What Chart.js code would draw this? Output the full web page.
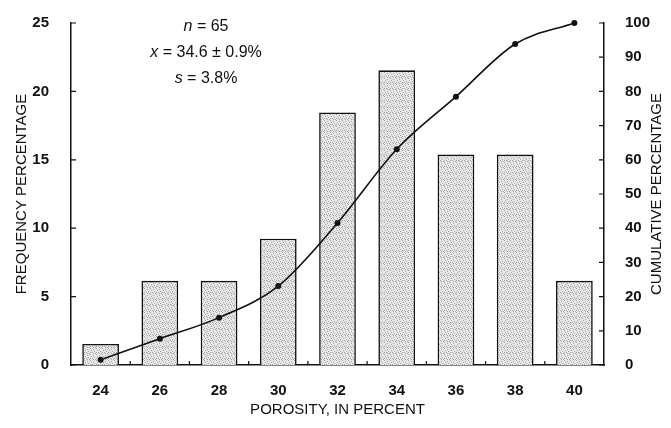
<!DOCTYPE html>
<html>
<head>
<meta charset="utf-8">
<script src="https://cdn.jsdelivr.net/npm/chart.js@4/dist/chart.umd.min.js"></script>
<style>
  html, body { margin: 0; padding: 0; background: #fff; }
  #porosityChart { display: block; }
</style>
</head>
<body>
<canvas id="porosityChart" width="671" height="428"></canvas>
<script>
// porosity classes (percent)
const categories = ['24', '26', '28', '30', '32', '34', '36', '38', '40'];
// frequency percentage, 65 samples
const frequency = [1.54, 6.15, 6.15, 9.23, 18.46, 21.54, 15.38, 15.38, 6.15];
// cumulative percentage
const cumulative = [1.54, 7.69, 13.85, 23.08, 41.54, 63.08, 78.46, 93.85, 100];
const freqTicks = [0, 5, 10, 15, 20, 25];
const cumTicks = [0, 10, 20, 30, 40, 50, 60, 70, 80, 90, 100];

// stippled grey fill like the scanned figure
function makeStipple() {
    const c = document.createElement('canvas');
    c.width = 6; c.height = 6;
    const g = c.getContext('2d');
    g.fillStyle = '#e6e6e6';
    g.fillRect(0, 0, 6, 6);
    g.fillStyle = '#a8a8a8';
    [[0, 0], [3, 1], [1, 2], [4, 3], [2, 4], [5, 5], [0, 4], [3, 5]].forEach(p => g.fillRect(p[0], p[1], 1, 1));
    return g.createPattern(c, 'repeat');
}

const inkColor = '#111';
const tickFont = { family: 'Liberation Sans, Arial, sans-serif', size: 15, weight: 'bold' };
const titleFont = { family: 'Liberation Sans, Arial, sans-serif', size: 15 };

// inward tick marks, right-hand title and the statistics box
const extrasPlugin = {
    id: 'extras',
    afterDraw(chart) {
        const ctx = chart.ctx;
        const area = chart.chartArea;
        const x = chart.scales.x, y = chart.scales.y, y1 = chart.scales.y1;
        ctx.save();
        ctx.strokeStyle = inkColor;
        ctx.lineWidth = 1.2;
        ctx.beginPath();
        freqTicks.forEach(v => {
            const py = y.getPixelForValue(v);
            ctx.moveTo(area.left, py); ctx.lineTo(area.left + 5, py);
        });
        cumTicks.forEach(v => {
            const py = y1.getPixelForValue(v);
            ctx.moveTo(area.right, py); ctx.lineTo(area.right - 5, py);
        });
        for (let i = 0; i < categories.length - 1; i++) {
            const px = (x.getPixelForTick(i) + x.getPixelForTick(i + 1)) / 2;
            ctx.moveTo(px, area.bottom); ctx.lineTo(px, area.bottom - 4);
        }
        ctx.stroke();

        // right axis title, reading bottom to top
        ctx.fillStyle = inkColor;
        ctx.font = '15px "Liberation Sans", Arial, sans-serif';
        ctx.textAlign = 'center';
        ctx.textBaseline = 'middle';
        ctx.translate(657, (area.top + area.bottom) / 2);
        ctx.rotate(-Math.PI / 2);
        ctx.fillText('CUMULATIVE PERCENTAGE', 0, 0);
        ctx.restore();

        // statistics
        const lines = [
            [['n', true], [' = 65', false]],
            [['x', true], [' = 34.6 \u00b1 0.9%', false]],
            [['s', true], [' = 3.8%', false]]
        ];
        ctx.save();
        ctx.fillStyle = inkColor;
        ctx.textBaseline = 'middle';
        ctx.textAlign = 'left';
        const cx = 206;
        lines.forEach((parts, i) => {
            const fonts = parts.map(p => (p[1] ? 'italic ' : '') + '16px "Liberation Sans", Arial, sans-serif');
            let w = 0;
            parts.forEach((p, j) => { ctx.font = fonts[j]; w += ctx.measureText(p[0]).width; });
            let px = cx - w / 2;
            parts.forEach((p, j) => {
                ctx.font = fonts[j];
                ctx.fillText(p[0], px, 27 + i * 26);
                px += ctx.measureText(p[0]).width;
            });
        });
        ctx.restore();
    }
};

const ctx = document.getElementById('porosityChart').getContext('2d');
const chart = new Chart(ctx, {
    type: 'bar',
    data: {
        labels: categories,
        datasets: [{
            type: 'line',
            label: 'Cumulative percentage',
            data: cumulative,
            yAxisID: 'y1',
            borderColor: inkColor,
            borderWidth: 1.6,
            pointRadius: 3,
            pointBackgroundColor: inkColor,
            pointBorderWidth: 0,
            cubicInterpolationMode: 'monotone',
            clip: false,
            order: 0
        }, {
            label: 'Frequency percentage',
            data: frequency,
            yAxisID: 'y',
            backgroundColor: makeStipple(),
            borderColor: inkColor,
            borderWidth: 1.6,
            barPercentage: 0.62,
            categoryPercentage: 1,
            order: 1
        }]
    },
    options: {
        responsive: false,
        animation: false,
        layout: { padding: { top: 14, left: 0, right: 0, bottom: 0 } },
        plugins: {
            legend: { display: false },
            tooltip: { enabled: false }
        },
        scales: {
            x: {
                grid: { display: false },
                border: { display: true, color: inkColor, width: 1.5 },
                ticks: { color: inkColor, font: tickFont, padding: 9, maxRotation: 0 },
                title: {
                    display: true,
                    text: 'POROSITY, IN PERCENT',
                    color: inkColor,
                    font: titleFont,
                    padding: { top: 0, bottom: 9 }
                },
                afterFit(scale) { scale.height = 63; }
            },
            y: {
                position: 'left',
                min: 0,
                max: 25,
                afterBuildTicks(scale) { scale.ticks = freqTicks.map(v => ({ value: v })); },
                grid: { display: false },
                border: { display: true, color: inkColor, width: 1.5 },
                ticks: { color: inkColor, font: tickFont, padding: 14 },
                title: {
                    display: true,
                    text: 'FREQUENCY PERCENTAGE',
                    color: inkColor,
                    font: titleFont,
                    padding: { top: 13, bottom: 0 }
                },
                afterFit(scale) { scale.width = 71; }
            },
            y1: {
                position: 'right',
                min: 0,
                max: 100,
                afterBuildTicks(scale) { scale.ticks = cumTicks.map(v => ({ value: v })); },
                grid: { display: false },
                border: { display: true, color: inkColor, width: 1.5 },
                ticks: { color: inkColor, font: tickFont, padding: 13 },
                afterFit(scale) { scale.width = 67; }
            }
        }
    },
    plugins: [extrasPlugin]
});
</script>
</body>
</html>
